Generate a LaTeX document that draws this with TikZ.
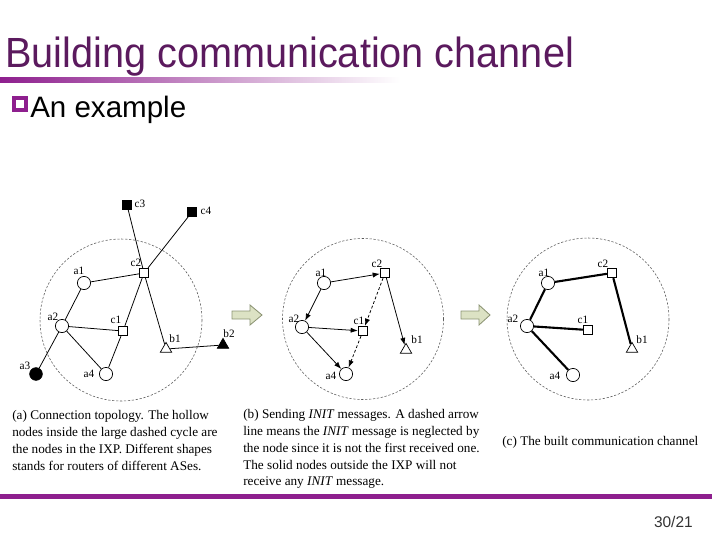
\documentclass[tikz,border=0pt]{standalone}
\usepackage{fontspec}
\setmainfont{Liberation Serif}
\newfontfamily\slidefont{Liberation Sans}
\usepackage{graphicx}
\usepackage{tikz}
\usetikzlibrary{arrows.meta,shapes.geometric}
\definecolor{plum}{HTML}{5B1A5E}
\definecolor{orchid}{HTML}{8E1F8E}
\definecolor{sagefill}{HTML}{DCE2C4}
\definecolor{sageline}{HTML}{8C9474}

\begin{document}
\begin{tikzpicture}[x=0.025cm,y=-0.025cm,
  every node/.style={inner sep=0pt},
  ring/.style={draw=black!65,dash pattern=on 1.6pt off 1.2pt,line width=0.4pt},
  hollow/.style={circle,draw,fill=white,minimum size=0.33cm,line width=0.5pt},
  filled/.style={circle,draw,fill=black,minimum size=0.32cm},
  box/.style={rectangle,draw,fill=white,minimum size=0.24cm,line width=0.5pt},
  fbox/.style={rectangle,draw,fill=black,minimum size=0.22cm},
  tri/.style={regular polygon,regular polygon sides=3,draw,fill=white,minimum size=0.33cm,line width=0.5pt},
  ftri/.style={tri,fill=black},
  lab/.style={font=\fontsize{8}{9}\selectfont},
  link/.style={line width=0.55pt},
  send/.style={-{Latex[length=1.8mm,width=1.3mm]},line width=0.55pt},
  ignored/.style={send,dash pattern=on 2pt off 1.5pt},
  kept/.style={line width=1.5pt},
  captxt/.style={anchor=north west,align=left,font=\fontsize{9.4}{12}\selectfont},
  blockarr/.style={fill=sagefill,draw=sageline,line width=0.6pt}]
  \useasboundingbox (0,0) rectangle (720,540);
  % slide header
  \node[anchor=base west,font=\slidefont\fontsize{30}{32}\selectfont,text=plum] (title) at (5,67) {\scalebox{0.94}[1]{Building communication channel}};
  \shade[left color=orchid,right color=white] (0,77) rectangle (400,82);
  \node[draw=orchid,line width=2.4pt,minimum size=0.3cm] (bullet) at (20,104) {};
  \node[anchor=base west,font=\slidefont\fontsize{21}{23}\selectfont] (sub) at (30,117) {An example};

  % (a) connection topology
  \draw[ring] (121,320) circle (81);
  \node[fbox] (t-c3) at (127,205) {};
  \node[fbox] (t-c4) at (192,212) {};
  \node[box] (t-c2) at (144,273) {};
  \node[hollow] (t-a1) at (84,283) {};
  \node[hollow] (t-a2) at (62,326) {};
  \node[box] (t-c1) at (123,331) {};
  \node[tri] (t-b1) at (166,349) {};
  \node[ftri] (t-b2) at (223,345) {};
  \node[filled] (t-a3) at (36,374) {};
  \node[hollow] (t-a4) at (106,374) {};
  \draw[link] (t-c3) -- (t-c2);
  \draw[link] (t-c4) -- (t-c2);
  \draw[link] (t-a1) -- (t-c2);
  \draw[link] (t-c1) -- (t-c2);
  \draw[link] (t-c2) -- (t-b1);
  \draw[link] (t-a1) -- (t-a2);
  \draw[link] (t-a2) -- (t-a3);
  \draw[link] (t-a2) -- (t-c1);
  \draw[link] (t-a2) -- (t-a4);
  \draw[link] (t-c1) -- (t-a4);
  \draw[link] (t-b1) -- (t-b2);
  \node[lab] (t-c3-l) at (140,204) {c3};
  \node[lab] (t-c4-l) at (206,211) {c4};
  \node[lab] (t-c2-l) at (136,263) {c2};
  \node[lab] (t-a1-l) at (79,271) {a1};
  \node[lab] (t-a2-l) at (53,317) {a2};
  \node[lab] (t-c1-l) at (116,320) {c1};
  \node[lab] (t-b1-l) at (175,339) {b1};
  \node[lab] (t-b2-l) at (229,334) {b2};
  \node[lab] (t-a3-l) at (25,366) {a3};
  \node[lab] (t-a4-l) at (89,374) {a4};

  \draw[blockarr] (232,311) -- (250,311) -- (250,305) -- (262,315) -- (250,325) -- (250,319) -- (232,319) -- cycle;

  % (b) sending INIT messages
  \draw[ring] (363,319) circle (80.5);
  \node[hollow] (m-a1) at (324,283) {};
  \node[box] (m-c2) at (385,273) {};
  \node[hollow] (m-a2) at (302,327) {};
  \node[box] (m-c1) at (363,331) {};
  \node[tri] (m-b1) at (406,350) {};
  \node[hollow] (m-a4) at (346,374) {};
  \draw[send] (m-a1) -- (m-c2);
  \draw[send] (m-a1) -- (m-a2);
  \draw[ignored] (m-c2) -- (m-c1);
  \draw[send] (m-c2) -- (m-b1);
  \draw[send] (m-a2) -- (m-c1);
  \draw[send] (m-a2) -- (m-a4);
  \draw[ignored] (m-c1) -- (m-a4);
  \node[lab] (m-a1-l) at (321,273) {a1};
  \node[lab] (m-c2-l) at (377,264) {c2};
  \node[lab] (m-a2-l) at (294,319) {a2};
  \node[lab] (m-c1-l) at (359,321) {c1};
  \node[lab] (m-b1-l) at (417,340) {b1};
  \node[lab] (m-a4-l) at (331,376) {a4};

  \draw[blockarr] (461,311) -- (479,311) -- (479,305) -- (490,315) -- (479,325) -- (479,319) -- (461,319) -- cycle;

  % (c) built channel
  \draw[ring] (588,319) circle (81);
  \node[hollow] (ch-a1) at (548,283) {};
  \node[box] (ch-c2) at (612,273) {};
  \node[hollow] (ch-a2) at (527,326) {};
  \node[box] (ch-c1) at (588,330) {};
  \node[tri] (ch-b1) at (632,349) {};
  \node[hollow] (ch-a4) at (573,375) {};
  \draw[kept] (ch-a1) -- (ch-c2);
  \draw[kept] (ch-a1) -- (ch-a2);
  \draw[kept] (ch-a2) -- (ch-c1);
  \draw[kept] (ch-a2) -- (ch-a4);
  \draw[kept] (ch-c2) -- (ch-b1);
  \node[lab] (ch-a1-l) at (544,273) {a1};
  \node[lab] (ch-c2-l) at (603,264) {c2};
  \node[lab] (ch-a2-l) at (513,319) {a2};
  \node[lab] (ch-c1-l) at (583,320) {c1};
  \node[lab] (ch-b1-l) at (642,340) {b1};
  \node[lab] (ch-a4-l) at (555,376) {a4};

  % captions
  \node[captxt] (cap-a) at (12,410) {(a) Connection topology. The hollow\\nodes inside the large dashed cycle are\\the nodes in the IXP. Different shapes\\stands for routers of different ASes.};
  \node[captxt] (cap-b) at (243,409) {(b) Sending \textit{INIT} messages. A dashed arrow\\line means the \textit{INIT} message is neglected by\\the node since it is not the first received one.\\The solid nodes outside the IXP will not\\receive any \textit{INIT} message.};
  \node[captxt] (cap-c) at (502,436) {(c) The built communication channel};

  % footer
  \fill[orchid] (0,494) rectangle (712,499);
  \node[anchor=base east,font=\slidefont\fontsize{11}{12}\selectfont,text=black!80] (page) at (693,527) {30/21};
\end{tikzpicture}
\end{document}
